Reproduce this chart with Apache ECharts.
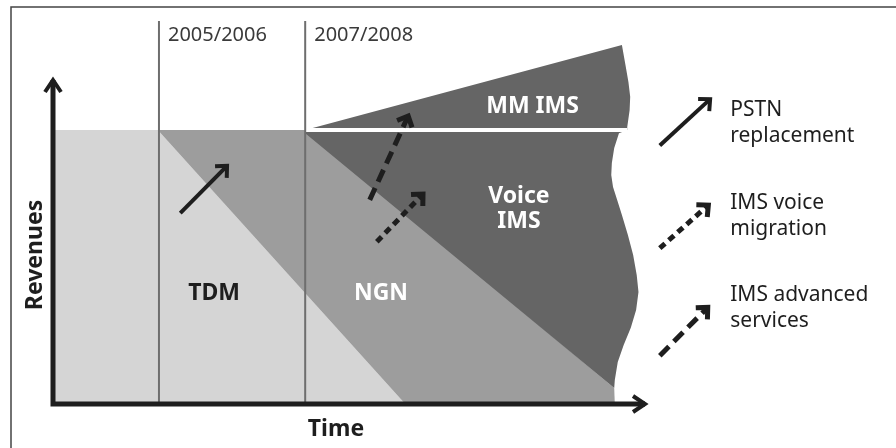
<!DOCTYPE html>
<html>
<head>
<meta charset="utf-8">
<script src="https://cdn.jsdelivr.net/npm/echarts@6/dist/echarts.min.js"></script>
<style>
  html, body { margin: 0; background: #fff; }
  #chart { width: 896px; height: 448px; }
</style>
</head>
<body>
<div id="chart"></div>
<script>
// time runs 0..100 to the x arrow tip, revenue 0..100 to the y arrow tip
const periods = ['2005/2006', '2007/2008']
const periodStart = [17.9, 42.6]
const periodTop = 118.2
const baseRevenue = 84.6

// revenue areas, [time, revenue] corners
const tdmArea = [[0, 0], [0, 84.6], [17.7, 84.6], [59.5, 0]]
const ngnArea = [[17.7, 84.6], [42.6, 84.6], [94.8, 4.9], [94.9, 0], [59.5, 0]]
const voiceArea = [
  [42.6, 84.6], [97.0, 84.6], [95.6, 83.6], [94.8, 79.0], [94.4, 74.4], [94.3, 70.7],
  [94.6, 67.0], [95.3, 63.0], [96.1, 58.3], [97.1, 52.2], [98.0, 46.0], [98.6, 39.8],
  [98.9, 34.6], [98.5, 29.0], [97.6, 23.5], [96.4, 18.2], [95.4, 13.0], [94.9, 7.4],
  [94.8, 4.9], [42.6, 83.6]
]
const mmArea = [
  [42.6, 84.6], [96.1, 110.8], [96.7, 104.6], [97.2, 99.4], [97.5, 94.8],
  [97.4, 90.7], [97.0, 85.5], [97.0, 84.6]
]

const areaNames = ['TDM', 'NGN', 'Voice\nIMS', 'MM IMS']
const areaLabelAt = [[27.2, 34.0], [55.4, 34.0], [78.7, 60.2], [81.0, 91.8]]

// migration arrows
const arrowKinds = ['PSTN\nreplacement', 'IMS voice\nmigration', 'IMS advanced\nservices']
const arrowFrom = [[21.5, 58.9], [54.7, 50.1], [53.5, 63.0]]
const arrowTo = [[29.4, 73.5], [62.5, 64.8], [60.0, 88.9]]
const keyFrom = [[102.5, 79.8], [102.5, 48.1], [102.5, 14.9]]
const keyTo = [[111.0, 94.1], [110.7, 61.4], [110.6, 29.8]]
const keyLabelAt = [[114.4, 86.7], [114.4, 58.0], [114.4, 29.6]]

const ink = '#1e1e1e'
const dashes = [null, [7, 5], [13, 7]]
const fills = ['#d5d5d5', '#9d9d9d', '#656565', '#656565']

const chart = echarts.init(document.getElementById('chart'))

function areaSeries (points, color, z) {
  return {
    type: 'custom',
    clip: false,
    silent: true,
    z: z,
    data: [points[0]],
    renderItem: (params, api) => ({
      type: 'polygon',
      shape: { points: points.map(p => api.coord(p)) },
      style: { fill: color }
    })
  }
}

function arrow (api, from, to, dash, width, head) {
  const a = api.coord(from)
  const b = api.coord(to)
  const ang = Math.atan2(b[1] - a[1], b[0] - a[0])
  const spread = Math.PI * 0.24
  const p1 = [b[0] - head * Math.cos(ang - spread), b[1] - head * Math.sin(ang - spread)]
  const p2 = [b[0] - head * Math.cos(ang + spread), b[1] - head * Math.sin(ang + spread)]
  return {
    type: 'group',
    children: [
      { type: 'polyline', shape: { points: [a, b] }, style: { stroke: ink, lineWidth: width, lineDash: dash, fill: null } },
      { type: 'polyline', shape: { points: [p1, b, p2] }, style: { stroke: ink, lineWidth: width, fill: null, lineJoin: 'miter' } }
    ]
  }
}

const options = {
  animation: false,
  grid: { left: 53, right: 251, top: 80, bottom: 44 },
  graphic: [
    {
      type: 'rect',
      shape: { x: 11, y: 7, width: 1000, height: 1000 },
      style: { fill: null, stroke: '#444', lineWidth: 1.5 },
      z: 0
    }
  ],
  xAxis: {
    type: 'value',
    min: 0,
    max: 100,
    name: 'Time',
    nameLocation: 'middle',
    nameGap: 14,
    nameTextStyle: { fontFamily: 'Noto Sans', fontWeight: 'bold', fontSize: 23, color: ink, padding: [0, 26, 0, 0] },
    axisLine: { show: false },
    axisTick: { show: false },
    axisLabel: { show: false },
    splitLine: { show: false }
  },
  yAxis: {
    type: 'value',
    min: 0,
    max: 100,
    name: 'Revenues',
    nameLocation: 'middle',
    nameRotate: 90,
    nameGap: 6,
    nameTextStyle: { fontFamily: 'Noto Sans', fontWeight: 'bold', fontSize: 23, color: ink, padding: [0, 26, 0, 0] },
    axisLine: { show: false },
    axisTick: { show: false },
    axisLabel: { show: false },
    splitLine: { show: false }
  },
  series: [
    areaSeries(tdmArea, fills[0], 1),
    areaSeries(ngnArea, fills[1], 2),
    areaSeries(voiceArea, fills[2], 3),
    areaSeries(mmArea, fills[3], 3),
    {
      // white divider between voice and MM IMS
      type: 'custom',
      clip: false,
      silent: true,
      z: 4,
      data: [[periodStart[1], baseRevenue]],
      renderItem: (params, api) => {
        const a = api.coord([periodStart[1], baseRevenue])
        const b = api.coord([97.0, baseRevenue])
        return {
          type: 'line',
          shape: { x1: a[0], y1: a[1], x2: b[0], y2: b[1] },
          style: { stroke: '#fff', lineWidth: 4 }
        }
      }
    },
    {
      // period separators + labels
      type: 'custom',
      clip: false,
      silent: true,
      z: 5,
      data: periodStart.map((x, i) => [x, periodTop, i]),
      renderItem: (params, api) => {
        const i = params.dataIndex
        const top = api.coord([periodStart[i], periodTop])
        const bot = api.coord([periodStart[i], 0])
        return {
          type: 'group',
          children: [
            { type: 'line', shape: { x1: top[0], y1: top[1], x2: bot[0], y2: bot[1] }, style: { stroke: '#6e6e6e', lineWidth: 2 } },
            {
              type: 'text',
              x: top[0] + 9,
              y: top[1] + 14,
              style: { text: periods[i], fill: '#3a3a3a', fontFamily: 'Noto Sans', fontSize: 20, align: 'left', verticalAlign: 'middle' }
            }
          ]
        }
      }
    },
    {
      // axes with open arrow heads
      type: 'custom',
      clip: false,
      silent: true,
      z: 6,
      data: [[0, 0]],
      renderItem: (params, api) => {
        const yTip = api.coord([0, 100])
        const origin = api.coord([0, 0])
        const xTip = api.coord([100, 0])
        const h = 12
        return {
          type: 'group',
          children: [
            { type: 'polyline', shape: { points: [yTip, origin, xTip] }, style: { stroke: ink, lineWidth: 5, fill: null, lineJoin: 'miter' } },
            { type: 'polyline', shape: { points: [[yTip[0] - 8, yTip[1] + h], yTip, [yTip[0] + 8, yTip[1] + h]] }, style: { stroke: ink, lineWidth: 4, fill: null, lineJoin: 'miter' } },
            { type: 'polyline', shape: { points: [[xTip[0] - h, xTip[1] - 8], xTip, [xTip[0] - h, xTip[1] + 8]] }, style: { stroke: ink, lineWidth: 4, fill: null, lineJoin: 'miter' } }
          ]
        }
      }
    },
    {
      // area names
      type: 'custom',
      clip: false,
      silent: true,
      z: 7,
      data: areaLabelAt,
      renderItem: (params, api) => {
        const i = params.dataIndex
        const p = api.coord(areaLabelAt[i])
        return {
          type: 'text',
          x: p[0],
          y: p[1],
          style: {
            text: areaNames[i],
            fill: i === 0 ? ink : '#fff',
            fontFamily: 'Noto Sans',
            fontWeight: 'bold',
            fontSize: 23,
            lineHeight: 25,
            align: 'center',
            verticalAlign: 'middle'
          }
        }
      }
    },
    {
      // arrows inside the chart
      type: 'custom',
      clip: false,
      silent: true,
      z: 8,
      data: arrowFrom,
      renderItem: (params, api) => {
        const i = params.dataIndex
        return arrow(api, arrowFrom[i], arrowTo[i], dashes[i], i === 0 ? 4 : 5, 12)
      }
    },
    {
      // key
      type: 'custom',
      clip: false,
      silent: true,
      z: 8,
      data: keyFrom,
      renderItem: (params, api) => {
        const i = params.dataIndex
        const t = api.coord(keyLabelAt[i])
        return {
          type: 'group',
          children: [
            arrow(api, keyFrom[i], keyTo[i], dashes[i], i === 0 ? 4 : 5, 12),
            {
              type: 'text',
              x: t[0],
              y: t[1],
              style: {
                text: arrowKinds[i],
                fill: ink,
                fontFamily: 'Noto Sans',
                fontSize: 21,
                lineHeight: 26,
                align: 'left',
                verticalAlign: 'middle'
              }
            }
          ]
        }
      }
    }
  ]
}

chart.setOption(options)
</script>
</body>
</html>
